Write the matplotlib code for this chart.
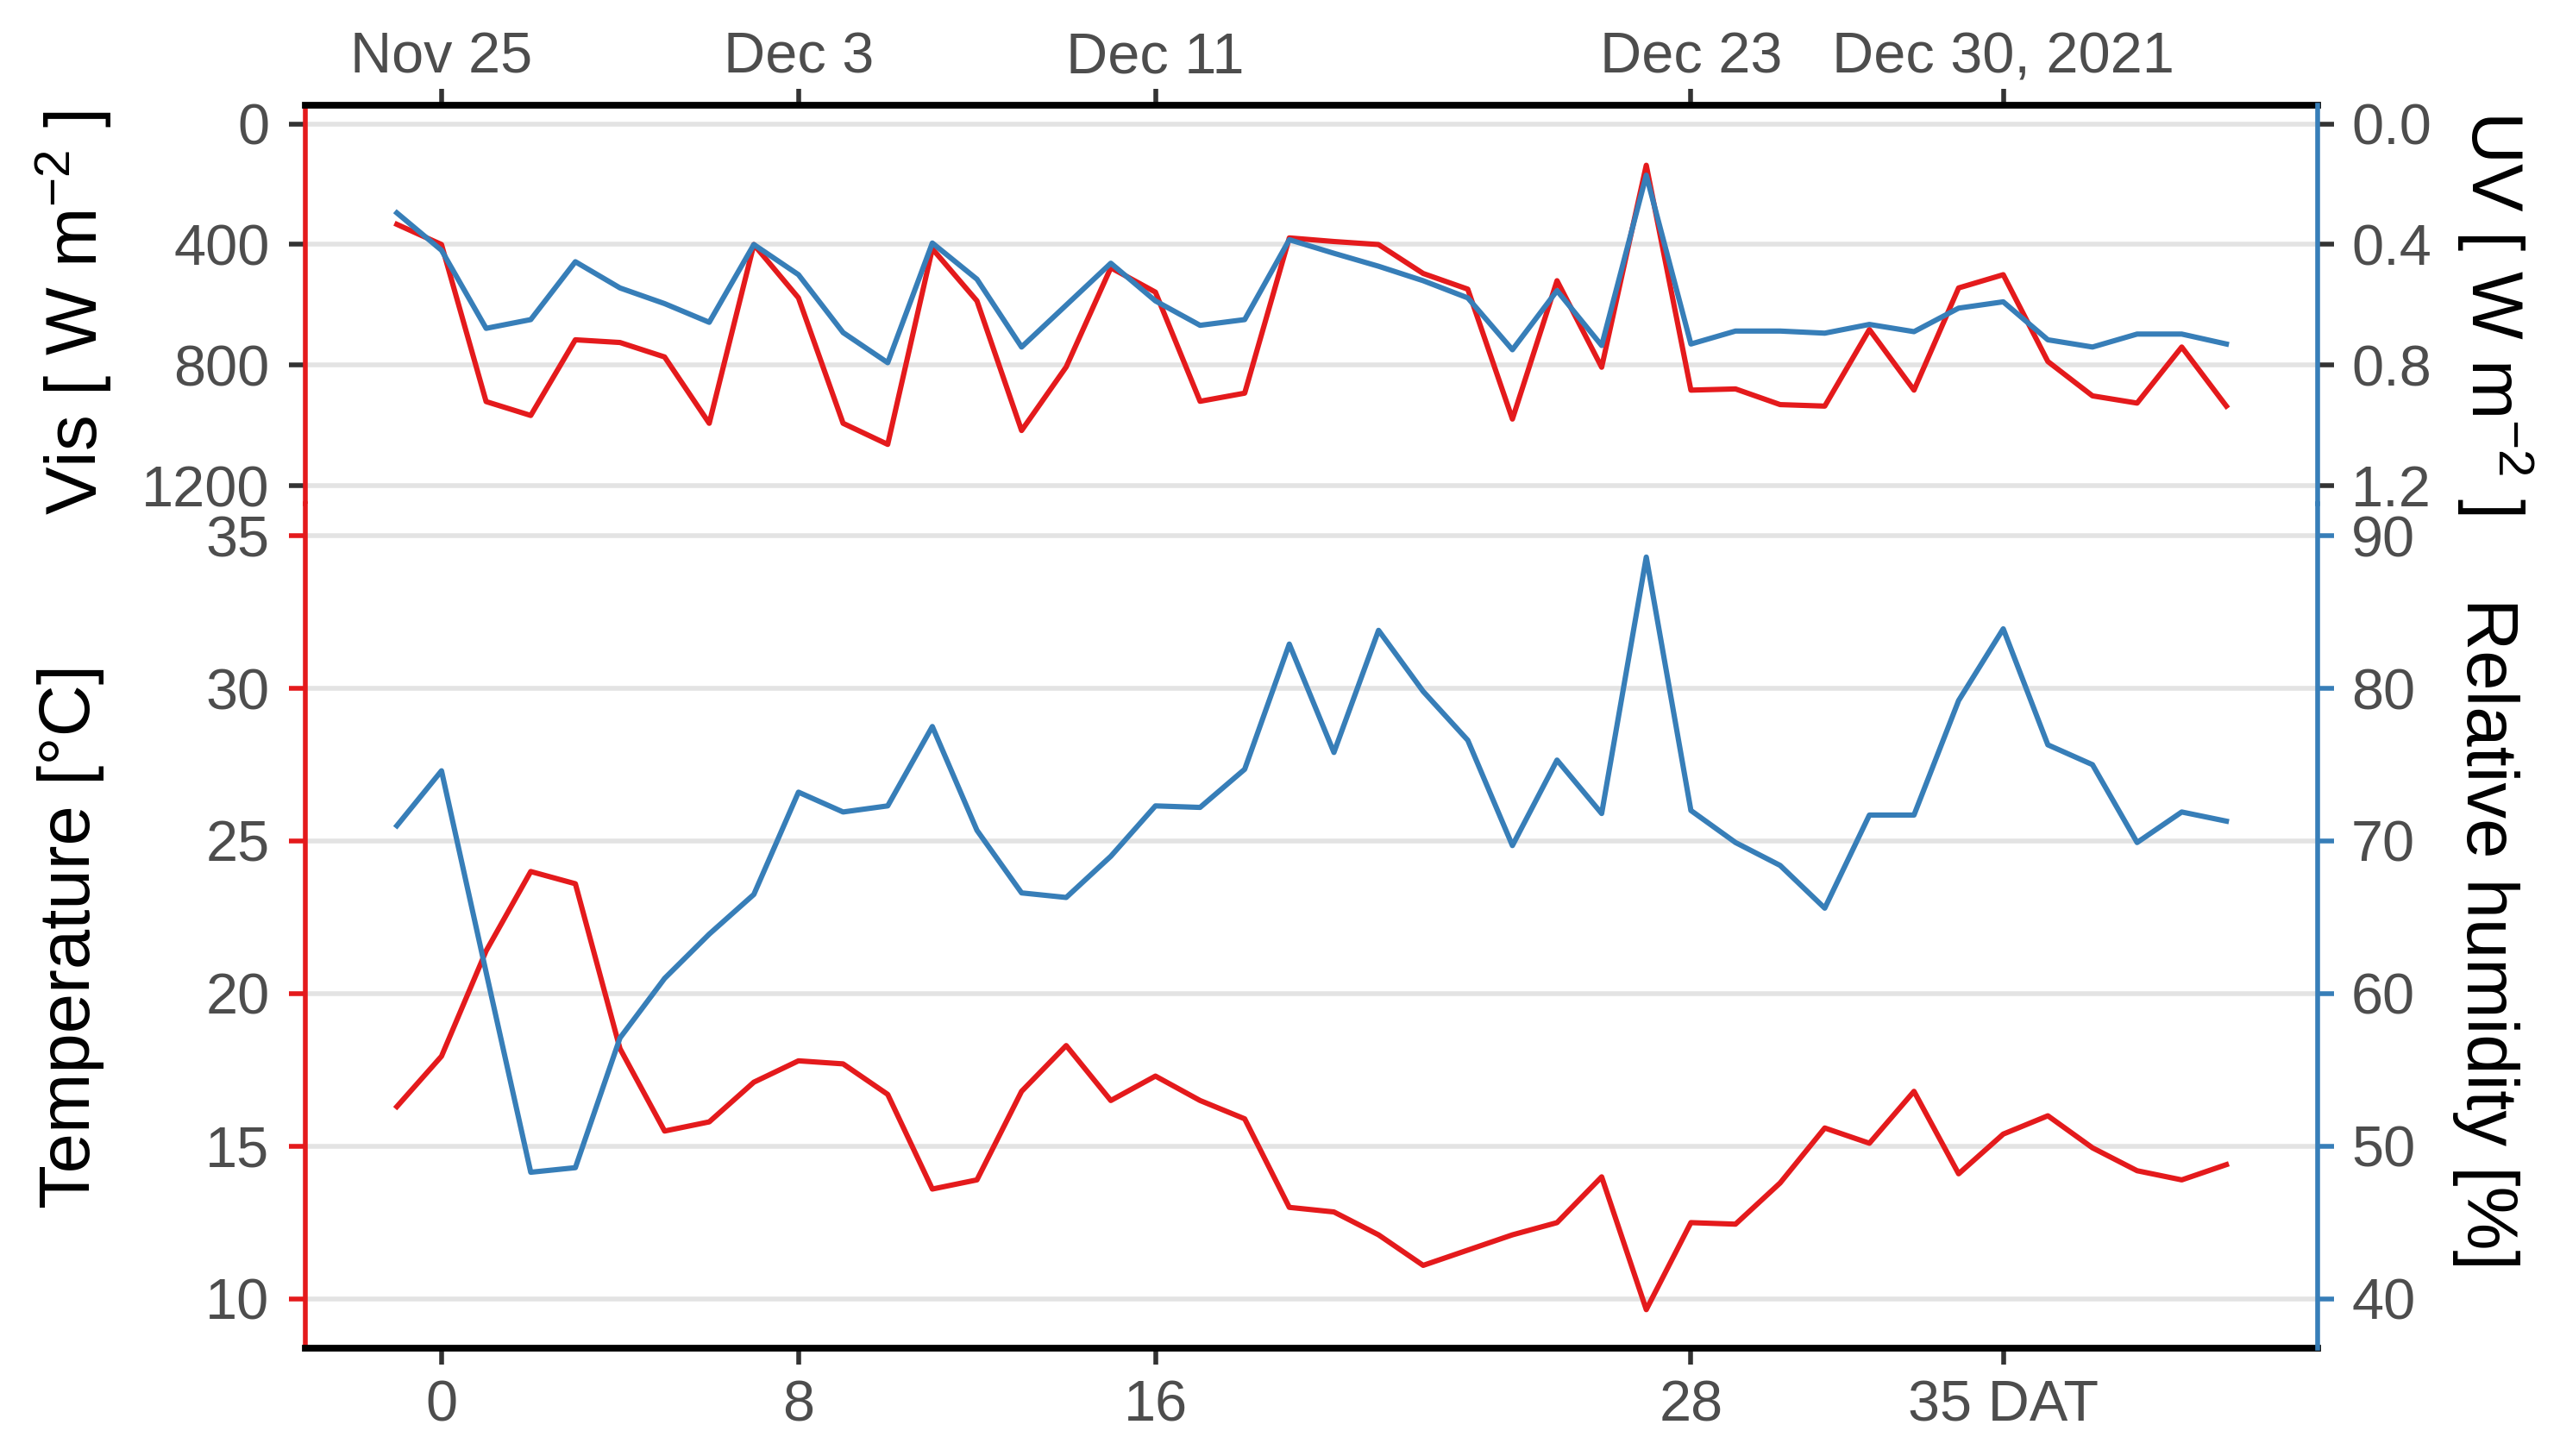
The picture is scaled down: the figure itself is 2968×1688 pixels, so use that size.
import numpy as np
import matplotlib
matplotlib.use("Agg")
import matplotlib.pyplot as plt

plt.rcParams['font.family'] = ['Liberation Sans', 'DejaVu Sans']
plt.rcParams['mathtext.fontset'] = 'custom'
plt.rcParams['mathtext.rm'] = 'Liberation Sans'
plt.rcParams['mathtext.it'] = 'Liberation Sans:italic'

# Data (days after transplanting)
days = [-1, 0, 1, 2, 3, 4, 5, 6, 7, 8, 9, 10, 11, 12, 13, 14, 15, 16, 17, 18, 19,
        20, 21, 22, 23, 24, 25, 26, 27, 28, 29, 30, 31, 32, 33, 34, 35, 36, 37, 38, 39, 40]
vis = [333, 400, 921, 967, 716, 725, 773, 993, 400, 577, 993,
       1063, 414, 587, 1017, 806, 477, 558, 920, 893, 378,
       390, 400, 496, 548, 979, 520, 807, 137, 883, 879, 931,
       936, 682, 883, 544, 500, 788, 902, 926, 740, 936]
uv = [0.295, 0.419, 0.678, 0.649, 0.457, 0.544, 0.596, 0.658, 0.400, 0.500, 0.692,
      0.792, 0.395, 0.515, 0.740, 0.601, 0.462, 0.587, 0.668, 0.649, 0.384,
      0.429, 0.472, 0.520, 0.577, 0.749, 0.553, 0.735, 0.170, 0.730, 0.687, 0.687,
      0.694, 0.665, 0.689, 0.611, 0.590, 0.716, 0.740, 0.697, 0.697, 0.730]
temp = [16.3, 17.95, 21.4, 24.0, 23.6, 18.2, 15.5, 15.8, 17.1, 17.8, 17.7,
        16.7, 13.6, 13.9, 16.8, 18.3, 16.5, 17.3, 16.5, 15.9, 13.0,
        12.85, 12.1, 11.1, 11.6, 12.1, 12.5, 14.0, 9.65, 12.5, 12.45, 13.8,
        15.6, 15.1, 16.8, 14.1, 15.4, 16.0, 14.95, 14.2, 13.9, 14.4]
rh = [71.0, 74.6, 61.4, 48.3, 48.6, 57.1, 61.0, 63.9, 66.5, 73.2, 71.9,
      72.3, 77.5, 70.7, 66.6, 66.3, 69.0, 72.3, 72.2, 74.7, 82.9,
      75.8, 83.8, 79.8, 76.6, 69.7, 75.3, 71.8, 88.6, 72.0, 69.9, 68.4,
      65.6, 71.7, 71.7, 79.2, 83.9, 76.3, 75.0, 69.9, 71.9, 71.3]

dat_ticks = [0, 8, 16, 28, 35]
dat_labels = ['0', '8', '16', '28', '35 DAT']
date_labels = ['Nov 25', 'Dec 3', 'Dec 11', 'Dec 23', 'Dec 30, 2021']

red = '#E41A1C'
blue = '#377EB8'
grey_txt = '#4D4D4D'
grid_col = '#E3E3E3'
lw = 2.2

fig = plt.figure(figsize=(14.84, 8.44), dpi=200)
left, width = 0.1193, 0.7861
ax_top = fig.add_axes([left, 0.6540, width, 0.2737])
ax_bot = fig.add_axes([left, 0.0741, width, 0.5800])

# Top panel: Vis (left) and UV (right)
ax_top.plot(days, vis, color=red, lw=lw)
ax_top.set_ylim(1260, -62)
ax_top.set_yticks([0, 400, 800, 1200])
ax_uv = ax_top.twinx()
ax_uv.plot(days, uv, color=blue, lw=lw)
ax_uv.set_ylim(1.260, -0.062)
ax_uv.set_yticks([0.0, 0.4, 0.8, 1.2])
ax_uv.set_yticklabels(['0.0', '0.4', '0.8', '1.2'])

# Bottom panel: temperature (left) and RH (right)
ax_bot.plot(days, temp, color=red, lw=lw)
ax_bot.set_ylim(8.39, 36.05)
ax_bot.set_yticks([10, 15, 20, 25, 30, 35])
ax_rh = ax_bot.twinx()
ax_rh.plot(days, rh, color=blue, lw=lw)
ax_rh.set_ylim(2 * 8.39 + 20, 2 * 36.05 + 20)
ax_rh.set_yticks([40, 50, 60, 70, 80, 90])

for ax in [ax_top, ax_bot, ax_uv, ax_rh]:
    ax.set_xlim(-3.05, 42.05)
    ax.set_xticks(dat_ticks)
    for s in ax.spines.values():
        s.set_visible(False)

for ax in [ax_top, ax_bot]:
    ax.yaxis.grid(True, color=grid_col, lw=2.0)
    ax.set_axisbelow(True)
    ax.spines['left'].set_visible(True)
    ax.spines['left'].set_color(red)
    ax.spines['left'].set_linewidth(2.0)
for ax in [ax_uv, ax_rh]:
    ax.spines['right'].set_visible(True)
    ax.spines['right'].set_color(blue)
    ax.spines['right'].set_linewidth(2.0)
    ax.tick_params(axis='x', bottom=False, top=False, labelbottom=False, labeltop=False)

ax_top.spines['top'].set_visible(True)
ax_top.spines['top'].set_color('black')
ax_top.spines['top'].set_linewidth(2.8)
ax_bot.spines['bottom'].set_visible(True)
ax_bot.spines['bottom'].set_color('black')
ax_bot.spines['bottom'].set_linewidth(2.8)

tick_kw = dict(length=7, width=2.0, labelsize=24, labelcolor=grey_txt)
ax_top.tick_params(axis='x', bottom=False, labelbottom=False, top=True, labeltop=True,
                   color='#333333', pad=1.5, **tick_kw)
ax_top.set_xticklabels(date_labels)
ax_bot.tick_params(axis='x', top=False, labeltop=False, bottom=True, labelbottom=True,
                   color='#333333', pad=6, **tick_kw)
ax_bot.set_xticklabels(dat_labels)
ax_top.tick_params(axis='y', color='#333333', pad=8, **tick_kw)
ax_bot.tick_params(axis='y', color=red, pad=8, **tick_kw)
ax_uv.tick_params(axis='y', color='#333333', pad=7, **tick_kw)
ax_rh.tick_params(axis='y', color=blue, pad=7, **tick_kw)

# Axis titles
fig.text(0.029, 0.785, r'Vis [ W m$^{-2}$ ]', rotation=90, fontsize=30,
         ha='center', va='center')
fig.text(0.0276, 0.357, 'Temperature [°C]', rotation=90, fontsize=30,
         ha='center', va='center')
fig.text(0.9745, 0.7855, r'UV [ W m$^{-2}$ ]', rotation=270, fontsize=30,
         ha='center', va='center')
fig.text(0.971, 0.359, 'Relative humidity [%]', rotation=270, fontsize=30,
         ha='center', va='center')

plt.savefig('out.png', dpi=200)
